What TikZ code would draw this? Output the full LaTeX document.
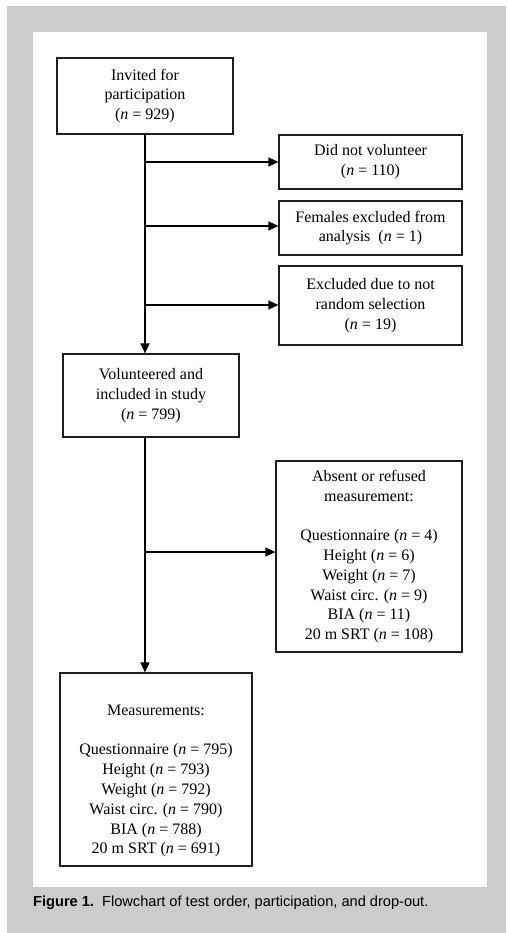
\documentclass[tikz,border=0pt]{standalone}
\usepackage{fontspec}
\setmainfont{Liberation Serif}
\newfontfamily\capfont{Liberation Sans}
\usetikzlibrary{arrows.meta}
\definecolor{framegray}{RGB}{204,204,204}
\definecolor{edgeink}{RGB}{30,30,30}
\tikzset{
  box/.style={draw=edgeink, line width=1.2pt, fill=white, inner sep=0pt,
    align=center, font=\fontsize{16}{19.8}\selectfont},
  txt/.style={inner sep=0pt, align=center, font=\fontsize{16}{19.8}\selectfont},
  flow/.style={draw=black, line width=1.5pt, -{Triangle[length=10pt,width=9pt]}},
  trunk/.style={draw=black, line width=1.5pt}
}
\begin{document}
\begin{tikzpicture}[x=1pt,y=-1pt]
  % page frame and white panel
  \useasboundingbox (0,0) rectangle (506,933);
  \fill[framegray] (7,6) rectangle (506,933);
  \fill[white] (33,32) rectangle (487,887);

  % boxes
  \node[box, minimum width=176pt, minimum height=76pt] (inv) at (145,96)
    {Invited for\\participation\\(\textit{n} = 929)};
  \node[box, minimum width=183pt, minimum height=54pt] (dnv) at (370.5,162)
    {Did not volunteer\\(\textit{n} = 110)};
  \node[box, minimum width=183pt, minimum height=54pt] (fem) at (370.5,228)
    {Females excluded from\\analysis\ \ (\textit{n} = 1)};
  \node[box, minimum width=183pt, minimum height=79pt] (exc) at (370.5,305.5)
    {Excluded due to not\\random selection\\(\textit{n} = 19)};
  \node[box, minimum width=176pt, minimum height=83pt] (vol) at (151,395.5)
    {Volunteered and\\included in study\\(\textit{n} = 799)};
  \node[box, minimum width=186pt, minimum height=191pt] (abs) at (369,556.5)
    {Absent or refused\\measurement:\\[19.8pt]
     Questionnaire (\textit{n} = 4)\\Height (\textit{n} = 6)\\Weight (\textit{n} = 7)\\
     Waist circ. (\textit{n} = 9)\\BIA (\textit{n} = 11)\\20 m SRT (\textit{n} = 108)};
  \node[box, minimum width=192pt, minimum height=193pt] (meas) at (156,769.5) {};
  \node[txt] (meastxt) at (156,781)
    {Measurements:\\[19.8pt]
     Questionnaire (\textit{n} = 795)\\Height (\textit{n} = 793)\\Weight (\textit{n} = 792)\\
     Waist circ. (\textit{n} = 790)\\BIA (\textit{n} = 788)\\20 m SRT (\textit{n} = 691)};

  % trunk and branches
  \coordinate (t1) at (145,162);
  \coordinate (t2) at (145,226);
  \coordinate (t3) at (145,305);
  \coordinate (t4) at (145,552);
  \draw[trunk] (inv.south -| t1) -- (t1);
  \draw[flow] (inv.south -| t1) -- (vol.north -| t1);
  \draw[flow] (t1) -- (dnv.west |- t1);
  \draw[flow] (t2) -- (fem.west |- t2);
  \draw[flow] (t3) -- (exc.west |- t3);
  \draw[flow] (vol.south -| t4) -- (meas.north -| t4);
  \draw[flow] (t4) -- (abs.west |- t4);

  % caption
  \node[anchor=base west, inner sep=0pt, font=\capfont\fontsize{14.6}{17}\selectfont] (cap) at (33,906)
    {\textbf{Figure 1.}\ \ Flowchart of test order, participation, and drop-out.};
\end{tikzpicture}
\end{document}
